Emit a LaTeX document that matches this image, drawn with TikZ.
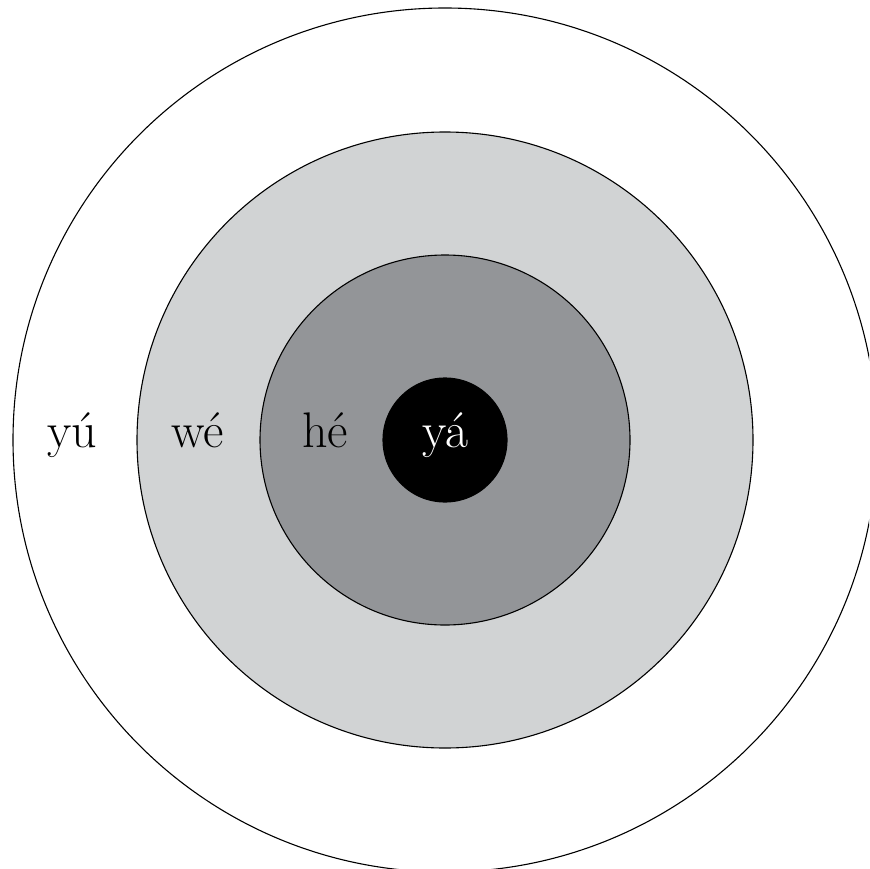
\documentclass[tikz,border=0pt]{standalone}
\usepackage{fontspec}
\setmainfont{Latin Modern Roman}
\definecolor{lightring}{RGB}{209,211,212}
\definecolor{darkring}{RGB}{147,149,152}
\begin{document}
\begin{tikzpicture}[x=1pt,y=-1pt,
  ring/.style={circle,draw=black,line width=1.1pt,inner sep=0pt},
  lab/.style={anchor=base,font=\fontsize{50}{60}\selectfont,inner sep=0pt}]
\useasboundingbox (0,0) rectangle (869,869);
\clip (0,0) rectangle (869,869);
\fill[white] (0,0) rectangle (869,869);
\node[ring,fill=white,minimum size=864pt] (yu) at (445,440) {};
\node[ring,fill=lightring,minimum size=616pt] (we) at (445,440) {};
\node[ring,fill=darkring,minimum size=370pt] (he) at (445,440) {};
\node[ring,fill=black,minimum size=124pt] (ya) at (445,440) {};
\node[lab] (tyu) at (72,447) {yú};
\node[lab] (twe) at (198,447) {wé};
\node[lab] (the) at (325,447) {hé};
\node[lab,text=white] (tya) at (445,447) {yá};
\end{tikzpicture}
\end{document}
